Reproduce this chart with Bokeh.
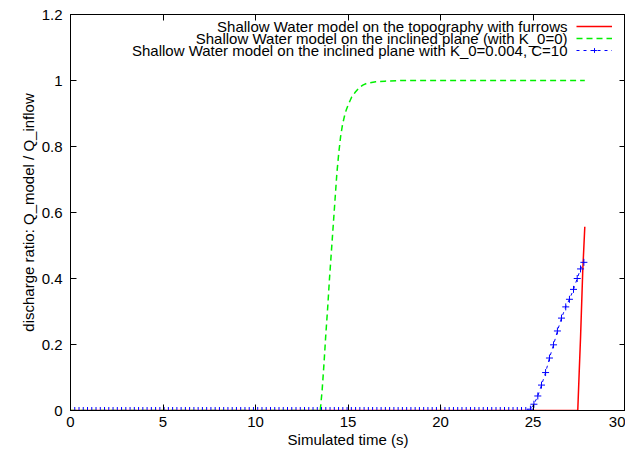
import numpy as np
from bokeh.plotting import figure
from bokeh.models import (FixedTicker, NumeralTickFormatter, LinearAxis, Range1d,
                          Legend, LegendItem, Label, CustomJSTickFormatter)
from bokeh.embed import file_html
from bokeh.resources import INLINE

# ---------------- data ----------------
# Shallow Water model on the topography with furrows (red)
red_t = [0.0, 27.42, 27.50, 27.57, 27.69, 27.80]
red_q = [0.0, 0.0, 0.12, 0.221, 0.424, 0.557]

# Shallow Water model on the inclined plane (with K_0=0) (green)
green_t = [0.0, 13.5, 13.6, 13.7, 13.8, 13.9, 14.0, 14.1, 14.2, 14.3, 14.4, 14.5,
           14.6, 14.7, 14.8, 14.9, 15.0, 15.2, 15.4, 15.6, 15.8, 16.0, 16.5, 17.0,
           18.0, 27.8]
green_q = [0.0, 0.0, 0.06, 0.14, 0.23, 0.31, 0.40, 0.48, 0.56, 0.64, 0.72, 0.78,
           0.83, 0.865, 0.89, 0.91, 0.925, 0.95, 0.965, 0.978, 0.986, 0.991, 0.996,
           0.998, 1.0, 1.0]

# Shallow Water model on the inclined plane with K_0=0.004, C=10 (blue)
blue_step = 0.23          # output interval of the flat (zero) part
blue_flat_end = 24.66
blue_rise_t = [24.86, 25.05, 25.26, 25.46, 25.68, 25.89, 26.11, 26.32, 26.54,
               26.77, 26.97, 27.19, 27.39, 27.57, 27.75]
blue_rise_q = [0.004, 0.019, 0.044, 0.077, 0.115, 0.159, 0.199, 0.241, 0.280,
               0.314, 0.337, 0.367, 0.400, 0.429, 0.449]

x_ticks = [0, 5, 10, 15, 20, 25, 30]
y_ticks = [0, 0.2, 0.4, 0.6, 0.8, 1, 1.2]

labels = ["Shallow Water model on the topography with furrows",
          "Shallow Water model on the inclined plane (with K_0=0)",
          "Shallow Water model on the inclined plane with K_0=0.004, C=10"]

blue_flat_t = list(np.round(np.arange(0.0, blue_flat_end + 1e-9, blue_step), 3))
blue_t = blue_flat_t + blue_rise_t
blue_q = [0.0] * len(blue_flat_t) + blue_rise_q

# ---------------- figure ----------------
FONT = "Liberation Sans"
FS = "15px"

p = figure(output_backend="svg", toolbar_location=None,
           x_range=Range1d(0, 30), y_range=Range1d(0, 1.2),
           frame_width=555, frame_height=396,
           min_border_left=70, min_border_right=0, min_border_top=14, min_border_bottom=0)
p.background_fill_color = "white"
p.border_fill_color = "white"
p.outline_line_color = "black"
p.outline_line_width = 1
p.grid.visible = False

r_red = p.line(red_t, red_q, line_color="#ff0000", line_width=1.5)
r_green = p.line(green_t, green_q, line_color="#00f000", line_width=1.5, line_dash="6 4")
r_blue = p.line(blue_t, blue_q, line_color="#0000ff", line_width=1, line_dash="3 4")
r_blue_m = p.scatter(blue_t, blue_q, marker="cross", size=7, line_color="#0000ff", line_width=1)

for ax in (p.xaxis[0], p.yaxis[0]):
    ax.major_tick_in = 6
    ax.major_tick_out = 0
    ax.minor_tick_in = 0
    ax.minor_tick_out = 0
    ax.axis_line_color = "black"
    ax.major_tick_line_color = "black"
    ax.major_label_text_font = FONT
    ax.major_label_text_font_size = FS
    ax.major_label_text_color = "black"
    ax.axis_label_text_font = FONT
    ax.axis_label_text_font_size = FS
    ax.axis_label_text_font_style = "normal"
    ax.axis_label_text_color = "black"

p.xaxis[0].ticker = FixedTicker(ticks=x_ticks)
p.yaxis[0].ticker = FixedTicker(ticks=y_ticks)
p.yaxis[0].formatter = NumeralTickFormatter(format="0.[0]")
p.xaxis[0].axis_label = "Simulated time (s)"
p.yaxis[0].axis_label = "discharge ratio: Q_model / Q_inflow"
p.xaxis[0].major_label_standoff = 6
p.xaxis[0].axis_label_standoff = 1
p.yaxis[0].major_label_standoff = 8
p.yaxis[0].axis_label_standoff = 2

# mirrored inward ticks on top and right (no labels)
blank = CustomJSTickFormatter(code="return '';")
top_ax = LinearAxis(ticker=FixedTicker(ticks=x_ticks), formatter=blank,
                    major_tick_in=6, major_tick_out=0, minor_tick_in=0, minor_tick_out=0,
                    major_label_standoff=0, axis_line_color="black",
                    major_tick_line_color="black")
right_ax = LinearAxis(ticker=FixedTicker(ticks=y_ticks), formatter=blank,
                      major_tick_in=6, major_tick_out=0, minor_tick_in=0, minor_tick_out=0,
                      major_label_standoff=0, axis_line_color="black",
                      major_tick_line_color="black")
p.add_layout(top_ax, "above")
p.add_layout(right_ax, "right")

# legend samples (gnuplot style: text right aligned, sample on the right)
legend = Legend(items=[LegendItem(label=" ", renderers=[r_red]),
                       LegendItem(label=" ", renderers=[r_green]),
                       LegendItem(label=" ", renderers=[r_blue, r_blue_m])],
                location=(506, 354), orientation="vertical",
                glyph_width=36, glyph_height=12, label_height=12, label_width=0,
                label_standoff=0, label_text_font_size="1px", spacing=0, padding=0,
                margin=0, border_line_color=None, background_fill_alpha=0)
p.add_layout(legend, "center")

for i, txt in enumerate(labels):
    p.add_layout(Label(x=497, y=384 - 12 * i, x_units="screen", y_units="screen",
                       text=txt, text_align="right", text_baseline="middle",
                       text_font=FONT, text_font_size=FS, text_color="black"))

open("out.html", "w").write(file_html(p, INLINE))
